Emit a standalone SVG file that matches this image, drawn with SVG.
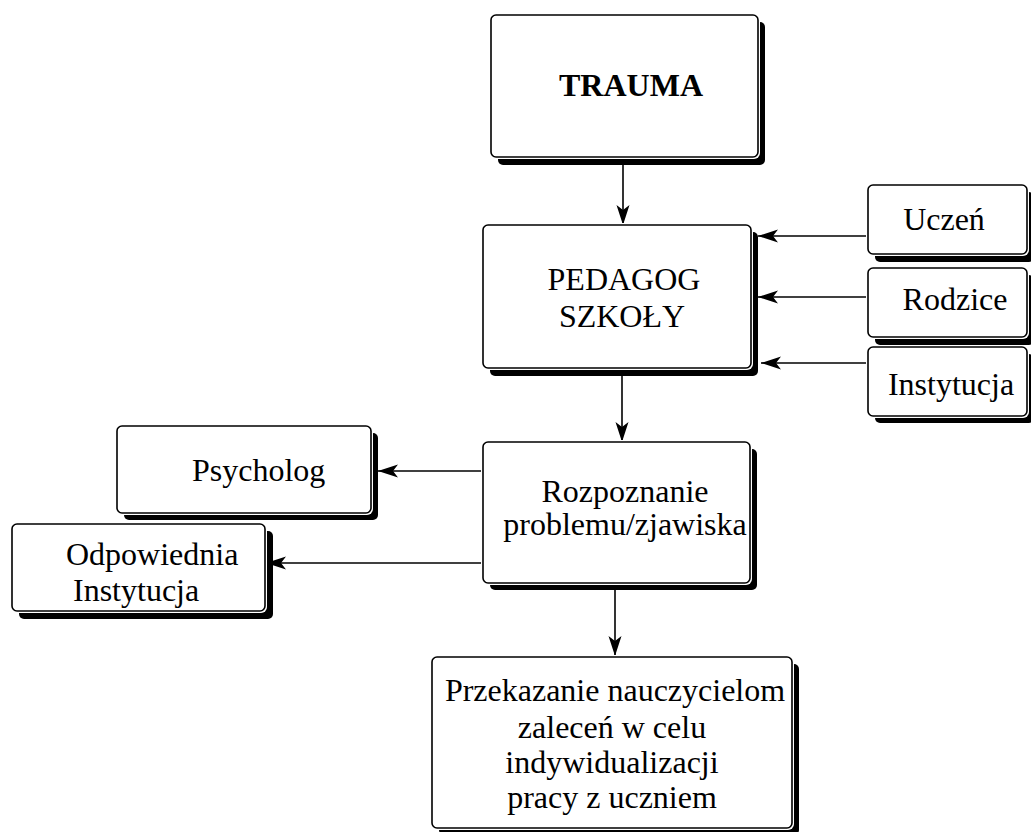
<svg xmlns="http://www.w3.org/2000/svg" width="1031" height="832" viewBox="0 0 1031 832">
<defs>
<style>
.sh{fill:#000}
.gap{fill:#fff}
.box{fill:#fff;stroke:#000;stroke-width:1.6}
.t{font-family:"Liberation Serif","Times New Roman",serif;font-size:32px;fill:#000}
.c{text-anchor:middle}
.b{font-weight:bold}
.ln{stroke:#000;stroke-width:1.6;fill:none;marker-end:url(#ah)}
</style>
<marker id="ah" markerUnits="userSpaceOnUse" markerWidth="24" markerHeight="16" viewBox="0 -8 20 16" refX="20" refY="0" orient="auto">
<path d="M0,-6.5 L20,0 L0,6.5 L5,0 Z" fill="#000"/>
</marker>
</defs>
<rect width="1031" height="832" fill="#fff"/>
<g id="connectors">
<line class="ln" x1="623" y1="157" x2="623" y2="225"/>
<line class="ln" x1="868" y1="236" x2="758" y2="236"/>
<line class="ln" x1="868" y1="297" x2="758" y2="297"/>
<line class="ln" x1="868" y1="363" x2="761" y2="363"/>
<line class="ln" x1="622" y1="368" x2="622" y2="442"/>
<line class="ln" x1="483" y1="471" x2="378" y2="471"/>
<line class="ln" x1="483" y1="563" x2="266" y2="563"/>
<line class="ln" x1="615" y1="584" x2="615" y2="656"/>
</g>
<g id="trauma">
<rect class="sh" x="498" y="22" width="267" height="143" rx="5"/>
<rect class="gap" x="489" y="13" width="271" height="146" rx="6"/>
<rect class="box" x="491" y="15" width="267" height="142" rx="5"/>
<text class="t c b" x="631" y="96">TRAUMA</text>
</g>
<g id="pedagog">
<rect class="sh" x="490" y="232" width="268" height="144" rx="5"/>
<rect class="gap" x="481" y="223" width="272" height="147" rx="6"/>
<rect class="box" x="483" y="225" width="268" height="143" rx="5"/>
<text class="t c" x="624" y="290">PEDAGOG</text>
<text class="t c" x="622" y="327">SZKOŁY</text>
</g>
<g id="uczen">
<rect class="sh" x="875" y="192" width="159" height="70" rx="5"/>
<rect class="gap" x="866" y="183" width="163" height="73" rx="6"/>
<rect class="box" x="868" y="185" width="159" height="69" rx="5"/>
<text class="t c" x="944" y="230">Uczeń</text>
</g>
<g id="rodzice">
<rect class="sh" x="875" y="275" width="159" height="70" rx="5"/>
<rect class="gap" x="866" y="266" width="163" height="73" rx="6"/>
<rect class="box" x="868" y="268" width="159" height="69" rx="5"/>
<text class="t c" x="955" y="310">Rodzice</text>
</g>
<g id="instytucja">
<rect class="sh" x="875" y="354" width="159" height="69" rx="5"/>
<rect class="gap" x="866" y="345" width="163" height="73" rx="6"/>
<rect class="box" x="868" y="347" width="159" height="69" rx="5"/>
<text class="t c" x="951" y="395">Instytucja</text>
</g>
<g id="rozpoznanie">
<rect class="sh" x="490" y="449" width="267" height="141" rx="5"/>
<rect class="gap" x="481" y="440" width="271" height="145" rx="6"/>
<rect class="box" x="483" y="442" width="267" height="141" rx="5"/>
<text class="t c" x="625" y="502">Rozpoznanie</text>
<text class="t c" x="625" y="535">problemu/zjawiska</text>
</g>
<g id="psycholog">
<rect class="sh" x="124" y="433" width="254" height="87" rx="5"/>
<rect class="gap" x="115" y="424" width="258" height="91" rx="6"/>
<rect class="box" x="117" y="426" width="254" height="87" rx="5"/>
<text class="t" x="192" y="481">Psycholog</text>
</g>
<g id="odpowiednia">
<rect class="sh" x="19" y="531" width="254" height="88" rx="5"/>
<rect class="gap" x="10" y="522" width="257" height="91" rx="6"/>
<rect class="box" x="12" y="524" width="253" height="87" rx="5"/>
<text class="t" x="66" y="565">Odpowiednia</text>
<text class="t" x="73" y="601">Instytucja</text>
</g>
<g id="przekazanie">
<rect class="sh" x="439" y="664" width="360" height="171" rx="5"/>
<rect class="gap" x="430" y="655" width="364" height="175" rx="6"/>
<rect class="box" x="432" y="657" width="360" height="171" rx="5"/>
<text class="t c" x="615" y="701">Przekazanie nauczycielom</text>
<text class="t c" x="612" y="738">zaleceń w celu</text>
<text class="t c" x="612" y="773">indywidualizacji</text>
<text class="t c" x="612" y="808">pracy z uczniem</text>
</g>
</svg>
